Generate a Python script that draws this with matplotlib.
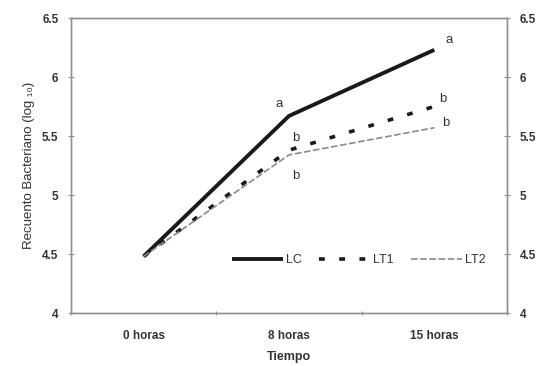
import matplotlib
matplotlib.use("Agg")
import matplotlib.pyplot as plt

categories = ["0 horas", "8 horas", "15 horas"]
lc = [4.48, 5.67, 6.23]
lt1 = [4.48, 5.38, 5.75]
lt2 = [4.48, 5.34, 5.57]
letters_lc = ["", "a", "a"]
letters_lt1 = ["", "b", "b"]
letters_lt2 = ["", "b", "b"]
yticks = [4, 4.5, 5, 5.5, 6, 6.5]
ytick_labels = ["4", "4.5", "5", "5.5", "6", "6.5"]

plt.rcParams['font.family'] = ['Liberation Sans', 'DejaVu Sans']

fig = plt.figure(figsize=(5.39, 3.66), dpi=100)
ax = fig.add_axes([0.1317, 0.1448, 0.8089, 0.806])
x = list(range(len(categories)))

ax.plot(x, lc, color="#1a1a1a", lw=2.8, label="LC", solid_capstyle="butt")
ax.plot(x, lt1, color="#1a1a1a", lw=2.6, ls=(0, (1.6, 4.0)), label="LT1")
ax.plot(x, lt2, color="#8a8a8a", lw=1.2, ls=(0, (4, 1.5)), label="LT2")

tick_fs = 8.5
ax.set_xlim(-0.5, 2.5)
ax.set_ylim(4, 6.5)
ax.set_xticks([-0.5, 0.5, 1.5, 2.5], minor=False)
ax.set_xticklabels([])
ax.set_xticks(x, minor=True)
ax.set_xticklabels(categories, minor=True, fontsize=tick_fs, fontweight="bold", color="#333333")
ax.tick_params(axis="x", which="minor", length=0, pad=12)
ax.tick_params(axis="x", which="major", length=3, direction="inout", color="#909090")

ax.set_yticks(yticks)
ax.set_yticklabels(ytick_labels, fontsize=tick_fs, fontweight="bold", color="#333333")
ax.tick_params(axis="y", length=4, direction="inout", color="#909090", pad=7)

ax2 = ax.twinx()
ax2.set_ylim(4, 6.5)
ax2.set_yticks(yticks)
ax2.set_yticklabels(ytick_labels, fontsize=tick_fs, fontweight="bold", color="#333333")
ax2.tick_params(axis="y", length=4, direction="inout", color="#909090", pad=7)

for a in (ax, ax2):
    for s in a.spines.values():
        s.set_color("#909090")
        s.set_linewidth(1.0)

ax.set_ylabel("Recuento Bacteriano (log ₁₀)", fontsize=9.5, color="#333333", labelpad=5)
ax.set_xlabel("Tiempo", fontsize=9, fontweight="bold", color="#333333", labelpad=7)

# significance letters
lfs = 9.5
ax.text(0.93, lc[1] + 0.1, letters_lc[1], fontsize=lfs, color="#333333", ha="center", va="center")
ax.text(2.1, lc[2] + 0.08, letters_lc[2], fontsize=lfs, color="#333333", ha="center", va="center")
ax.text(1.05, lt1[1] + 0.1, letters_lt1[1], fontsize=lfs, color="#333333", ha="center", va="center")
ax.text(1.05, lt2[1] - 0.18, letters_lt2[1], fontsize=lfs, color="#333333", ha="center", va="center")
ax.text(2.06, lt1[2] + 0.06, letters_lt1[2], fontsize=lfs, color="#333333", ha="center", va="center")
ax.text(2.08, lt2[2] + 0.04, letters_lt2[2], fontsize=lfs, color="#333333", ha="center", va="center")

ax.legend(loc="center", bbox_to_anchor=(0.66, 0.18), ncol=3, frameon=False,
          fontsize=9, handlelength=4.1, handletextpad=0.2, columnspacing=1.4,
          labelcolor="#333333")

fig.savefig("out.png", dpi=100)
